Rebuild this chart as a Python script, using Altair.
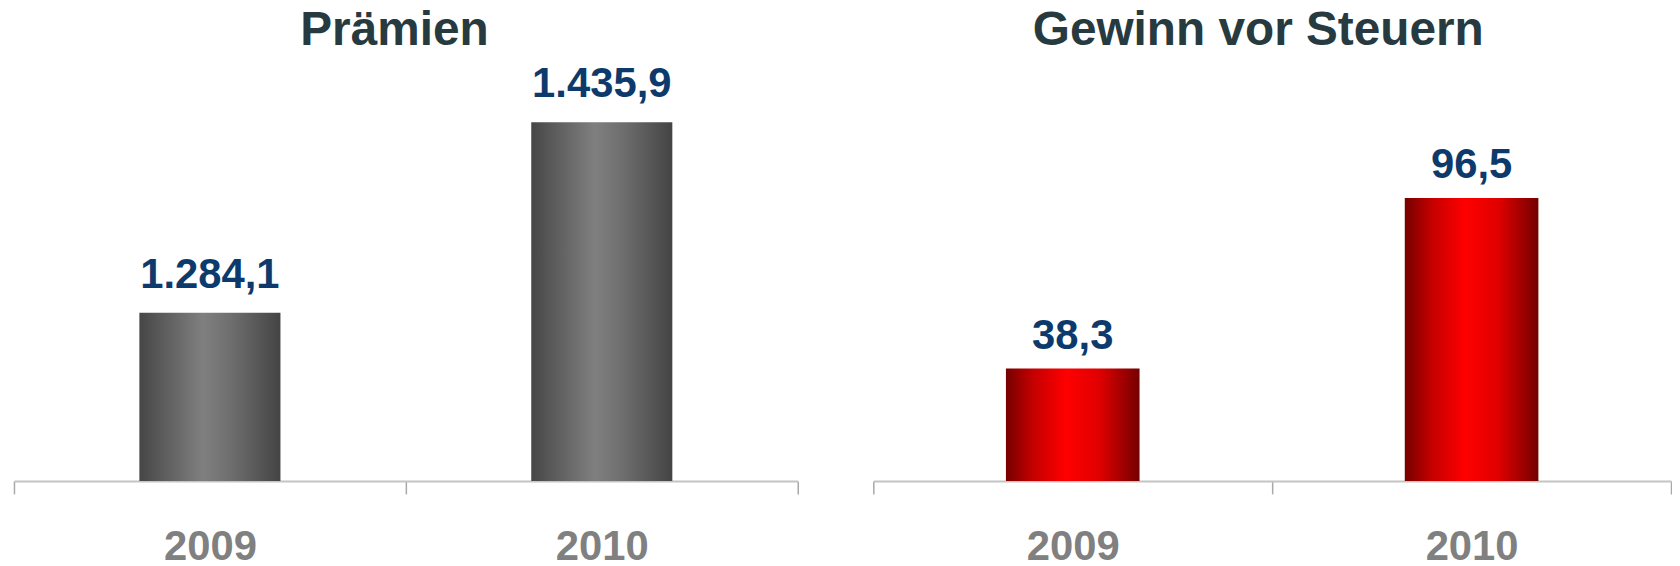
import altair as alt
import pandas as pd

years = ["2009", "2010"]
praemien = [1284.1, 1435.9]
gewinn = [38.3, 96.5]

titles = ["Prämien", "Gewinn vor Steuern"]

FONT = "Liberation Sans, Arial, Helvetica, sans-serif"
TITLE_COLOR = "#263a40"
VALUE_COLOR = "#0d3a6c"
LABEL_COLOR = "#808080"

gray_grad = alt.Gradient(
    gradient="linear",
    stops=[
        alt.GradientStop(color="#464646", offset=0),
        alt.GradientStop(color="#5a5a5a", offset=0.15),
        alt.GradientStop(color="#7f7f7f", offset=0.45),
        alt.GradientStop(color="#6e6e6e", offset=0.65),
        alt.GradientStop(color="#444444", offset=1),
    ],
    x1=0, x2=1, y1=0, y2=0,
)
red_grad = alt.Gradient(
    gradient="linear",
    stops=[
        alt.GradientStop(color="#760000", offset=0),
        alt.GradientStop(color="#c40000", offset=0.2),
        alt.GradientStop(color="#ff0000", offset=0.45),
        alt.GradientStop(color="#e00000", offset=0.7),
        alt.GradientStop(color="#740000", offset=1),
    ],
    x1=0, x2=1, y1=0, y2=0,
)

x_axis = alt.Axis(
    title=None,
    labelAngle=0,
    labelFont=FONT,
    labelFontSize=42,
    labelFontWeight="bold",
    labelColor=LABEL_COLOR,
    labelPadding=33,
    tickSize=13,
    tickColor="#a8a8a8",
    tickWidth=1.5,
    tickBand="extent",
    domainColor="#c4c4c4",
    domainWidth=2,
    grid=False,
)

HEIGHT = 440


def panel(values, title, domain, grad, band, dy, width, dx):
    df = pd.DataFrame({"Jahr": years, "Wert": values})
    base = alt.Chart(df).encode(
        x=alt.X("Jahr:N", axis=x_axis,
                scale=alt.Scale(paddingInner=0, paddingOuter=0)),
        y=alt.Y("Wert:Q", axis=None,
                scale=alt.Scale(domain=domain, zero=False, nice=False)),
    )
    bars = base.mark_bar(color=grad, width=alt.RelativeBandSize(band), clip=True)
    labels = base.mark_text(
        dy=dy, baseline="alphabetic", font=FONT, fontSize=42,
        fontWeight="bold", color=VALUE_COLOR,
    ).encode(text=alt.Text("Wert:Q", format=",.1f"))
    return (bars + labels).properties(
        width=width, height=HEIGHT,
        title=alt.TitleParams(
            text=title, font=FONT, fontSize=48, fontWeight="bold",
            color=TITLE_COLOR, anchor="middle", baseline="alphabetic",
            frame="group", offset=-50, dx=dx,
        ),
    )


left = panel(praemien, titles[0], [1150, 1498.8], gray_grad, 0.36, -25, 788, -11.5)
right = panel(gewinn, titles[1], [0, 149.2], red_grad, 0.335, -20, 802, -14)

chart = (
    alt.hconcat(left, right, spacing=74)
    .resolve_scale(y="independent", x="independent")
    .properties(padding={"left": 5, "top": -2, "right": 0, "bottom": 0})
    .configure(locale=alt.Locale(number=alt.NumberLocale(
        decimal=",", thousands=".", grouping=[3], currency=["", " €"])))
    .configure_view(strokeWidth=0)
)

chart.save("out.html", embed_options={"renderer": "svg", "actions": False})
